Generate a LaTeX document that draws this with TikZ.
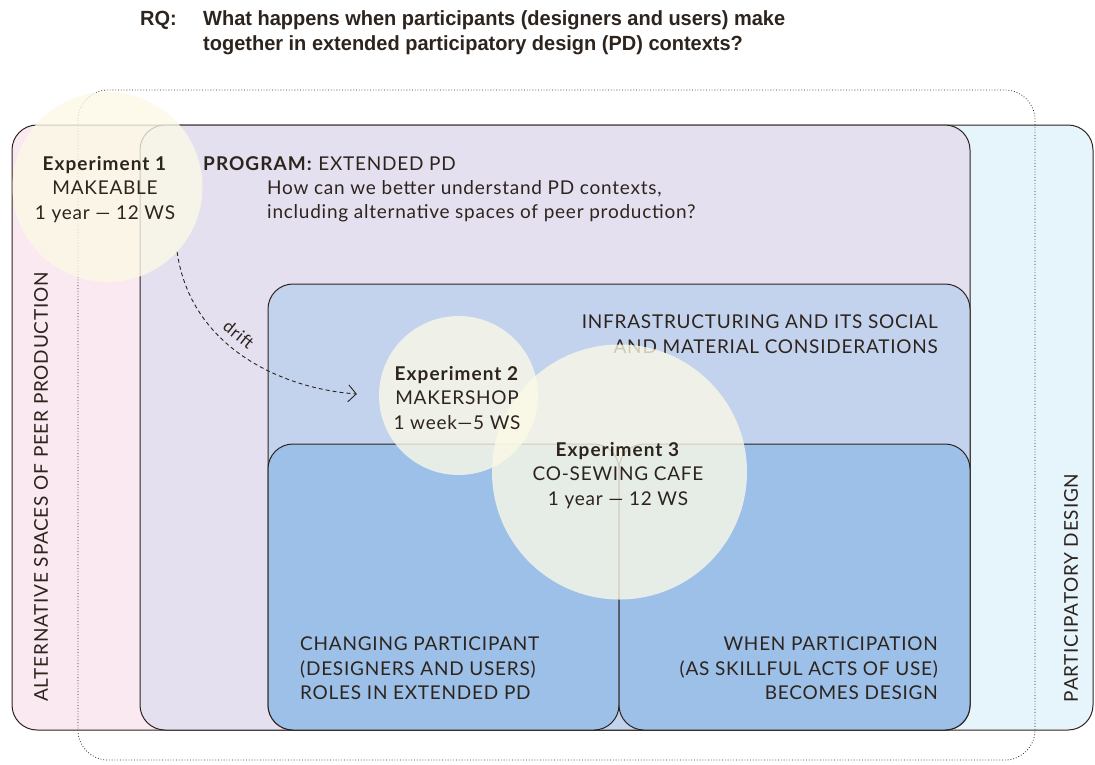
\documentclass[tikz,border=0pt]{standalone}
\usepackage{fontspec}
\setmainfont{Lato}[LetterSpace=4, BoldFeatures={LetterSpace=5.5}]
\newfontfamily\rqfont[FakeStretch=0.975]{Liberation Sans}
\usetikzlibrary{arrows.meta, positioning}

\definecolor{inkbrown}{HTML}{2E241E}
\definecolor{altpink}{HTML}{FAE9F1}
\definecolor{pdblue}{HTML}{E6F4FC}
\definecolor{progpurple}{HTML}{E4E0F0}
\definecolor{infrablue}{HTML}{C3D3EE}
\definecolor{roleblue}{HTML}{9CC0E8}
\definecolor{creamfill}{HTML}{FCF9E6}

\begin{document}
\begin{tikzpicture}[x=1pt, y=-1pt,
    frame/.style={draw=inkbrown, line width=1pt, rounded corners=25pt},
    expcircle/.style={circle, fill=creamfill, fill opacity=0.78, inner sep=0pt},
    boxtext/.style={text=inkbrown, inner sep=0pt, font=\fontsize{19}{24.5}\selectfont},
    rqtext/.style={text=inkbrown, inner sep=0pt, font=\rqfont\bfseries\fontsize{20.5}{25}\selectfont}]
    \useasboundingbox (0,0) rectangle (1095,764);

    % research question
    \node[rqtext, anchor=base west] (rq) at (140,25) {RQ:};
    \node[rqtext, anchor=north west, align=left] (question) at (203,10.5)
        {What happens when participants (designers and users) make\\together in extended participatory design (PD) contexts?};

    % nested fields
    \fill[altpink, rounded corners=25pt] (12,125) rectangle (600,730);
    \fill[pdblue, rounded corners=25pt] (500,125) rectangle (1093,730);
    \draw[frame] (12,125) rectangle (1093,730);
    \draw[frame, fill=progpurple] (140,125) rectangle (970,730);
    \draw[frame, fill=infrablue] (268,284) rectangle (970,730);
    \draw[frame, fill=roleblue] (268,444) rectangle (619,730);
    \draw[frame, fill=roleblue] (619,444) rectangle (970,730);
    \draw[inkbrown, dotted, line width=0.8pt, rounded corners=30pt] (78,90) rectangle (1035,760);

    % field labels
    \node[boxtext, rotate=90] (altspaces) at (41,487) {ALTERNATIVE SPACES OF PEER PRODUCTION};
    \node[boxtext, rotate=90] (pd) at (1071,588) {PARTICIPATORY DESIGN};
    \node[boxtext, anchor=north west] (program) at (203,156) {\textbf{PROGRAM:} EXTENDED PD};
    \node[boxtext, anchor=north west, align=left] (programq) at (267,180)
        {How can we better understand PD contexts,\\including alternative spaces of peer production?};
    \node[boxtext, anchor=north east, align=right] (infra) at (938,315)
        {INFRASTRUCTURING AND ITS SOCIAL\\AND MATERIAL CONSIDERATIONS};
    \node[boxtext, anchor=north west, align=left] (roles) at (300,637)
        {CHANGING PARTICIPANT\\(DESIGNERS AND USERS)\\ROLES IN EXTENDED PD};
    \node[boxtext, anchor=north east, align=right] (use) at (938,637)
        {WHEN PARTICIPATION\\(AS SKILLFUL ACTS OF USE)\\BECOMES DESIGN};

    % experiments
    \node[expcircle, minimum size=190pt] (exp1) at (107.5,187) {};
    \node[expcircle, minimum size=159pt] (exp2) at (458.5,395.5) {};
    \node[expcircle, minimum size=255pt] (exp3) at (619.5,472) {};
    \node[boxtext, anchor=north, align=center] (exp1txt) at (105,156)
        {\textbf{Experiment 1}\\MAKEABLE\\1 year --- 12 WS};
    \node[boxtext, anchor=north, align=center] (exp2txt) at (457,366)
        {\textbf{Experiment 2}\\MAKERSHOP\\1 week---5 WS};
    \node[boxtext, anchor=north, align=center] (exp3txt) at (618,442)
        {\textbf{Experiment 3}\\CO-SEWING CAFE\\1 year --- 12 WS};

    \draw[inkbrown, line width=0.9pt, dash pattern=on 4pt off 3pt,
        -{Straight Barb[length=8pt, width=17pt]}, shorten >=22pt]
        (exp1.-43) to[out=-82, in=176]
        node[boxtext, sloped, above=7pt, pos=0.42, font=\fontsize{17}{20}\selectfont] (drift) {drift}
        (exp2.west);
\end{tikzpicture}
\end{document}
